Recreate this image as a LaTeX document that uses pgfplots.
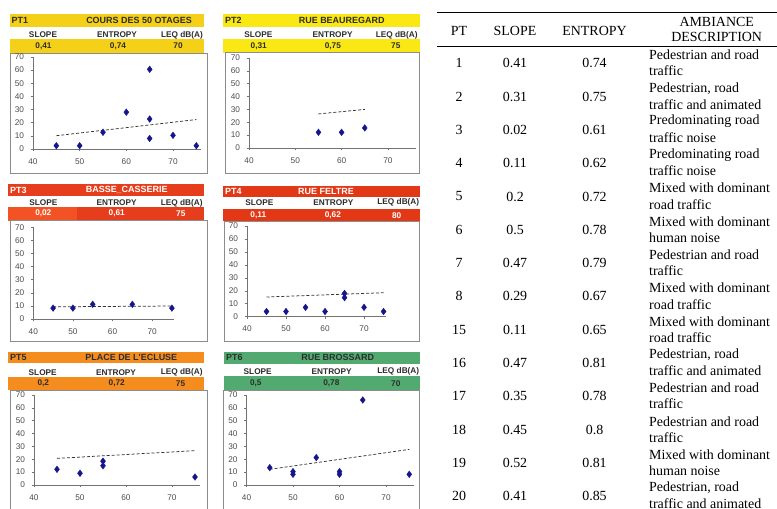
\documentclass[border=0pt]{standalone}
\usepackage{pgfplots}
\pgfplotsset{compat=1.18}
\usepackage{fontspec}
\setmainfont{Liberation Serif}
\newfontfamily\arial{Liberation Sans}

\definecolor{ptA}{RGB}{245,208,25}
\definecolor{ptB}{RGB}{250,232,20}
\definecolor{ptC}{RGB}{230,62,28}
\definecolor{ptCc}{RGB}{242,82,36}
\definecolor{ptD}{RGB}{226,56,22}
\definecolor{ptE}{RGB}{245,140,30}
\definecolor{ptF}{RGB}{82,170,112}
\definecolor{mk}{RGB}{22,22,140}
\definecolor{dk}{RGB}{45,45,45}
\definecolor{frame}{RGB}{140,140,140}

\pgfplotsset{
  panel/.style={
    scale only axis, xmin=40, ymin=0, ymax=70,
    xtick={40,50,60,70}, ytick={0,10,...,70},
    axis x line*=bottom, axis y line*=left,
    axis line style={draw=black!55, line width=0.6bp},
    tick style={draw=black!55, line width=0.5bp},
    tick align=outside, major tick length=2.5bp,
    tick label style={font=\arial\fontsize{8.3}{9}\selectfont, text=black!70},
    xticklabel style={yshift=-3.5bp},
    yticklabel style={xshift=-3bp},
    /pgf/number format/assume math mode=true,
    clip=false, anchor=south west,
  },
  pts/.style={only marks, mark=diamond*, mark size=3.3bp, color=mk},
  trend/.style={densely dashed, black!80, line width=0.75bp, mark=none},
}

\tikzset{
  hd/.style={font=\arial\bfseries\fontsize{9}{10}\selectfont, inner sep=0},
  lb/.style={font=\arial\bfseries\fontsize{8.3}{9}\selectfont, text=dk, inner sep=0},
  tb/.style={font=\fontsize{14}{16}\selectfont, inner sep=0},
}

\begin{document}
\begin{tikzpicture}[x=1bp,y=1bp]
\useasboundingbox (0,0) rectangle (777,509);

% top-down coordinates (pixels of the reference) for the decorations
\begin{scope}[shift={(0,509)}, y=-1bp]
% ---------- PT1
\fill[ptA] (10,14) rectangle (204,27);
\node[hd, anchor=west, text=dk] at (11.5,20.5) {PT1};
\node[hd, text=dk] at (139,20.5) {COURS DES 50 OTAGES};
\node[lb] at (43,35) {SLOPE};
\node[lb] at (117,35) {ENTROPY};
\node[lb] at (182,35) {LEQ dB(A)};
\fill[ptA] (10,39) rectangle (204,53);
\node[lb] at (43.5,46) {0,41};
\node[lb] at (118,46) {0,74};
\node[lb] at (178,46) {70};
\draw[frame, line width=0.9bp] (10,53) rectangle (207,173.3);

% ---------- PT2
\fill[ptB] (222.7,14) rectangle (420,27.3);
\node[hd, anchor=west, text=dk] at (225,20.6) {PT2};
\node[hd, text=dk] at (341.7,20.6) {RUE BEAUREGARD};
\node[lb] at (258.3,35) {SLOPE};
\node[lb] at (332.7,35) {ENTROPY};
\node[lb] at (396.7,35) {LEQ dB(A)};
\fill[ptB] (222.7,39.3) rectangle (420,52.7);
\node[lb] at (258.7,46) {0,31};
\node[lb] at (332.8,46) {0,75};
\node[lb] at (395.8,46) {75};
\draw[frame, line width=0.9bp] (225.3,52.7) rectangle (419.5,173.3);

% ---------- PT3
\fill[ptC] (8,184.3) rectangle (204,195.7);
\node[hd, anchor=west, text=white] at (10,190) {PT3};
\node[hd, text=white] at (126.7,190) {BASSE\_CASSERIE};
\node[lb] at (43.3,203) {SLOPE};
\node[lb] at (116.7,203) {ENTROPY};
\node[lb] at (181.7,203) {LEQ dB(A)};
\fill[ptC] (8,206.7) rectangle (204,220.7);
\fill[ptCc] (8,206.7) rectangle (77,220.7);
\node[lb, text=white] at (43.3,213.7) {0,02};
\node[lb, text=white] at (116.7,213.7) {0,61};
\node[lb, text=white] at (180.8,213.7) {75};
\draw[frame, line width=0.9bp] (10,220.7) rectangle (207,341.7);

% ---------- PT4
\fill[ptD] (223.3,185.7) rectangle (420,197);
\node[hd, anchor=west, text=white] at (225,191.3) {PT4};
\node[hd, text=white] at (326,191.3) {RUE FELTRE};
\node[lb] at (259.3,202.7) {SLOPE};
\node[lb] at (333.3,202.7) {ENTROPY};
\node[lb] at (398.3,202.7) {LEQ dB(A)};
\fill[ptD] (223.3,209.3) rectangle (420,221);
\node[lb, text=white] at (258.3,215.2) {0,11};
\node[lb, text=white] at (332.8,215.2) {0,62};
\node[lb, text=white] at (396.7,215.2) {80};
\draw[frame, line width=0.9bp] (224.3,221) rectangle (419.5,341.7);

% ---------- PT5
\fill[ptE] (8,351.7) rectangle (204,363.3);
\node[hd, anchor=west, text=dk] at (10,357.5) {PT5};
\node[hd, text=dk] at (131.3,357.5) {PLACE DE L'ECLUSE};
\node[lb] at (42.7,372.7) {SLOPE};
\node[lb] at (116,372.7) {ENTROPY};
\node[lb] at (181.7,372.7) {LEQ dB(A)};
\fill[ptE] (8,376.7) rectangle (204,390);
\node[lb] at (43.3,383.3) {0,2};
\node[lb] at (116.7,383.3) {0,72};
\node[lb] at (180.5,383.3) {75};
\draw[frame, line width=0.9bp] (10,390) rectangle (207,520);

% ---------- PT6
\fill[ptF] (224,351.7) rectangle (420,364);
\node[hd, anchor=west, text=dk] at (226,357.8) {PT6};
\node[hd, text=dk] at (337.7,357.8) {RUE BROSSARD};
\node[lb] at (257.7,371.7) {SLOPE};
\node[lb] at (331.7,371.7) {ENTROPY};
\node[lb] at (398.3,371.7) {LEQ dB(A)};
\fill[ptF] (224,375.7) rectangle (420,390.7);
\node[lb] at (255.8,383.2) {0,5};
\node[lb] at (331.3,383.2) {0,78};
\node[lb] at (395.8,383.2) {70};
\draw[frame, line width=0.9bp] (223.3,390.7) rectangle (419.5,520);

% ---------- table
\draw[line width=1bp] (437,12.7) -- (777,12.7);
\draw[line width=0.8bp] (437,46.7) -- (777,46.7);
\node[tb] at (459,30.7) {PT};
\node[tb] at (515,30.7) {SLOPE};
\node[tb] at (594.5,30.7) {ENTROPY};
\node[tb] at (716.7,21.7) {AMBIANCE};
\node[tb] at (716.7,37.3) {DESCRIPTION};
\foreach \p/\s/\e/\da/\db [count=\i from 0] in {
  {1/0.41/0.74/Pedestrian and road/traffic},
  {2/0.31/0.75/Pedestrian, road/traffic and animated},
  {3/0.02/0.61/Predominating road/traffic noise},
  {4/0.11/0.62/Predominating road/traffic noise},
  {5/0.2/0.72/Mixed with dominant/road traffic},
  {6/0.5/0.78/Mixed with dominant/human noise},
  {7/0.47/0.79/Pedestrian and road/traffic},
  {8/0.29/0.67/Mixed with dominant/road traffic},
  {15/0.11/0.65/Mixed with dominant/road traffic},
  {16/0.47/0.81/Pedestrian, road/traffic and animated},
  {17/0.35/0.78/Pedestrian and road/traffic},
  {18/0.45/0.8/Pedestrian and road/traffic},
  {19/0.52/0.81/Mixed with dominant/human noise},
  {20/0.41/0.85/Pedestrian, road/traffic and animated}} {
  \pgfmathsetmacro\yv{63.3+33.3*\i}
  \node[tb] at (459,\yv) {\p};
  \node[tb] at (515,\yv) {\s};
  \node[tb] at (594.5,\yv) {\e};
  \node[tb, anchor=west] at (649,\yv-8.3) {\da};
  \node[tb, anchor=west] at (649,\yv+7.8) {\db};
}
\end{scope}

% ---------- scatter panels (origin = bottom-left of the page, in bp)
\begin{axis}[panel, at={(33bp,360bp)}, xmax=76, width=168bp, height=92bp]
  \addplot[pts] coordinates {(45,2.5) (50,2.5) (55,12.7) (60,28) (65,60.6) (65,22.8) (65,8) (70,10.4) (75,2.5)};
  \addplot[trend] coordinates {(45,10.1) (75,22.4)};
\end{axis}

\begin{axis}[panel, at={(249bp,361bp)}, xmax=76, width=166.7bp, height=90bp]
  \addplot[pts] coordinates {(55,12.2) (60,12.2) (65,15.6)};
  \addplot[trend] coordinates {(55,26.5) (65,30)};
\end{axis}

\begin{axis}[panel, at={(33.3bp,190bp)}, xmax=75.5, width=140.6bp, height=91.7bp]
  \addplot[pts] coordinates {(45,8.3) (50,8.3) (55,11.2) (65,11.2) (75,8.3)};
  \addplot[trend] coordinates {(45,9.3) (75,9.9)};
\end{axis}

\begin{axis}[panel, at={(247bp,192.3bp)}, xmax=75.5, width=138.5bp, height=90.7bp]
  \addplot[pts] coordinates {(45,4) (50,4) (55,7.2) (60,4) (65,18) (65,14.7) (70,7.2) (75,4)};
  \addplot[trend] coordinates {(45,15.2) (75,18.5)};
\end{axis}

\begin{axis}[panel, at={(34bp,24bp)}, xmax=76, width=165.6bp, height=90bp]
  \addplot[pts] coordinates {(45,12.2) (50,9.1) (55,18.5) (55,15) (75,6.2)};
  \addplot[trend] coordinates {(45,20.7) (75,26.7)};
\end{axis}

\begin{axis}[panel, at={(246.5bp,24bp)}, xmax=76, width=167.4bp, height=90bp]
  \addplot[pts] coordinates {(45,13.5) (50,8.3) (50,10.4) (55,21.3) (60,8.3) (60,10.4) (65,66.1) (75,8.3)};
  \addplot[trend] coordinates {(45,12.2) (75,27.7)};
\end{axis}
\end{tikzpicture}
\end{document}
